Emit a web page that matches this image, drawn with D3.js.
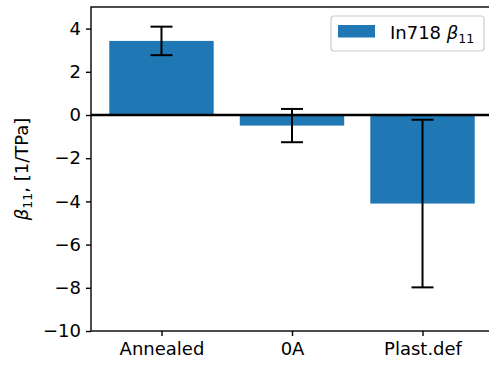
<!DOCTYPE html>
<html>
<head>
<meta charset="utf-8">
<script src="https://cdn.jsdelivr.net/npm/d3@7"></script>
<style>
  body { margin: 0; background: #fff; }
  svg text { font-family: "DejaVu Sans", sans-serif; }
</style>
</head>
<body>
<div id="chart"></div>
<script>
var categories = ["Annealed", "0A", "Plast.def"];
var values = [3.43, -0.49, -4.1];
var errors = [0.66, 0.77, 3.88];
var yTicks = [-10, -8, -6, -4, -2, 0, 2, 4];

var width = 489, height = 365;
var fontSize = 18;

var svg = d3.select("#chart")
            .append("svg")
            .attr("width", width)
            .attr("height", height);

// axes box (right spine falls just outside the crop)
var axLeft = 91, axRight = 493, axTop = 7, axBottom = 331;

var x = d3.scaleLinear().domain([-0.54, 2.54]).range([axLeft, axRight]);
var y = d3.scaleLinear().domain([-10, 5]).range([axBottom, axTop]);
var barW = x(0.8) - x(0);

var data = categories.map(function(c, i){
  return { name: c, value: values[i], err: errors[i], i: i };
});

// bars
svg.selectAll("rect.bar")
   .data(data)
   .enter()
   .append("rect")
   .attr("class", "bar")
   .attr("x", function(d){ return x(d.i) - barW / 2; })
   .attr("width", barW)
   .attr("y", function(d){ return y(Math.max(0, d.value)); })
   .attr("height", function(d){ return Math.abs(y(d.value) - y(0)); })
   .attr("fill", "#1f77b4");

// zero line
svg.append("line")
   .attr("x1", axLeft).attr("x2", axRight)
   .attr("y1", y(0)).attr("y2", y(0))
   .attr("stroke", "black")
   .attr("stroke-width", 2.6);

// error bars
var cap = 11;
var eb = svg.selectAll("g.err")
            .data(data)
            .enter()
            .append("g")
            .attr("class", "err")
            .attr("stroke", "black")
            .attr("stroke-width", 2);

eb.append("line")
  .attr("x1", function(d){ return x(d.i); })
  .attr("x2", function(d){ return x(d.i); })
  .attr("y1", function(d){ return y(d.value + d.err); })
  .attr("y2", function(d){ return y(d.value - d.err); });

eb.append("line")
  .attr("x1", function(d){ return x(d.i) - cap; })
  .attr("x2", function(d){ return x(d.i) + cap; })
  .attr("y1", function(d){ return y(d.value + d.err); })
  .attr("y2", function(d){ return y(d.value + d.err); });

eb.append("line")
  .attr("x1", function(d){ return x(d.i) - cap; })
  .attr("x2", function(d){ return x(d.i) + cap; })
  .attr("y1", function(d){ return y(d.value - d.err); })
  .attr("y2", function(d){ return y(d.value - d.err); });

// spines
svg.append("rect")
   .attr("x", axLeft).attr("y", axTop)
   .attr("width", axRight - axLeft).attr("height", axBottom - axTop)
   .attr("fill", "none")
   .attr("stroke", "black")
   .attr("stroke-width", 1.4);

// y axis
var yAxis = svg.append("g")
   .attr("transform", "translate(" + axLeft + ",0)")
   .call(d3.axisLeft(y).tickValues(yTicks).tickSize(5).tickPadding(5));

// x axis
var xAxis = svg.append("g")
   .attr("transform", "translate(0," + axBottom + ")")
   .call(d3.axisBottom(x).tickValues([0, 1, 2])
           .tickFormat(function(d){ return categories[d]; })
           .tickSize(5).tickPadding(6));

[yAxis, xAxis].forEach(function(a){
  a.select(".domain").remove();
  a.selectAll(".tick line").attr("stroke", "black").attr("stroke-width", 1.4);
  a.selectAll(".tick text")
   .attr("fill", "black")
   .style("font-size", fontSize + "px")
   .style("font-family", "DejaVu Sans");
});

// y label
var ylab = svg.append("text")
   .attr("transform", "translate(28," + ((axTop + axBottom) / 2) + ") rotate(-90)")
   .attr("text-anchor", "middle")
   .style("font-size", fontSize + "px")
   .attr("fill", "black");
ylab.append("tspan").style("font-style", "italic").text("β");
ylab.append("tspan").attr("dy", 4).style("font-size", (fontSize * 0.7) + "px").text("11");
ylab.append("tspan").attr("dy", -4).text(", [1/TPa]");

// legend
var lg = svg.append("g");
lg.append("rect")
  .attr("x", 331).attr("y", 16)
  .attr("width", 153).attr("height", 35)
  .attr("rx", 3)
  .attr("fill", "white").attr("fill-opacity", 0.8)
  .attr("stroke", "#cccccc").attr("stroke-width", 1.2);
lg.append("rect")
  .attr("x", 338).attr("y", 25)
  .attr("width", 37).attr("height", 12.5)
  .attr("fill", "#1f77b4");
var lt = lg.append("text")
  .attr("x", 390).attr("y", 39)
  .style("font-size", fontSize + "px")
  .attr("fill", "black");
lt.append("tspan").text("In718 ");
lt.append("tspan").style("font-style", "italic").text("β");
lt.append("tspan").attr("dy", 4).style("font-size", (fontSize * 0.7) + "px").text("11");
</script>
</body>
</html>
